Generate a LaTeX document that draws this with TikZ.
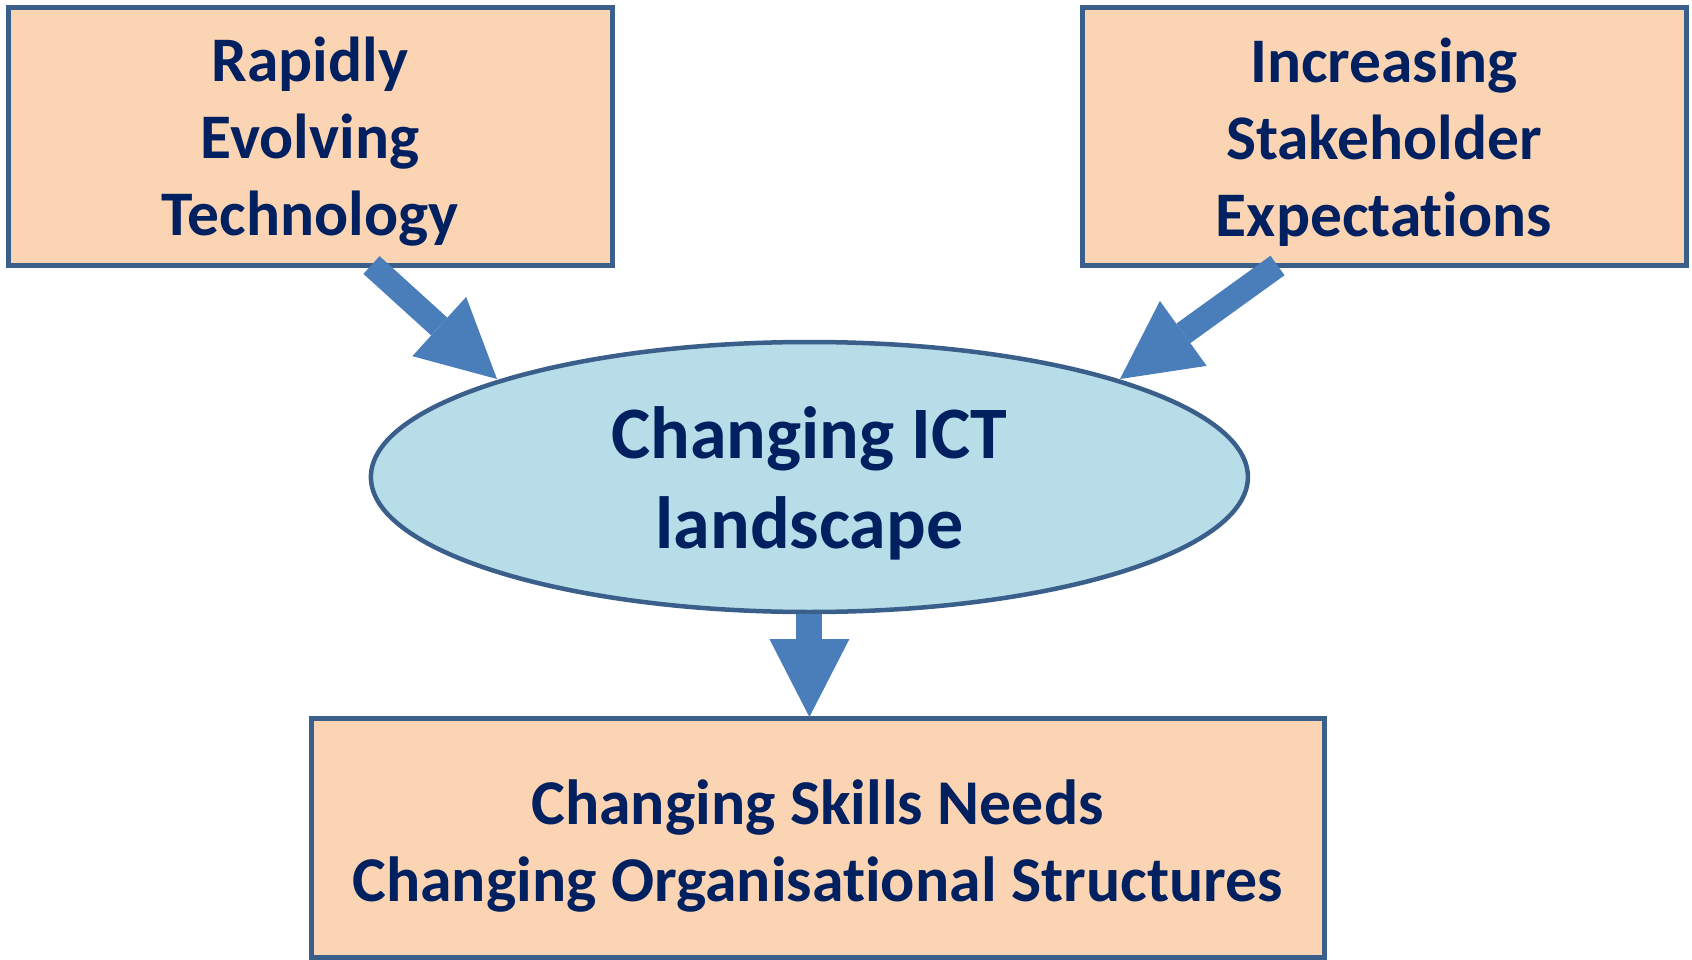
\documentclass[tikz,border=0pt]{standalone}
\usepackage{fontspec}
\setmainfont[Ligatures=NoCommon]{Carlito}
\usetikzlibrary{arrows.meta,shapes.geometric}
\definecolor{boxfill}{HTML}{FBD4B4}
\definecolor{ellfill}{HTML}{B7DDE8}
\definecolor{edgeblue}{HTML}{3A5F8B}
\definecolor{arrowblue}{HTML}{4A7EBB}
\definecolor{textnavy}{HTML}{002060}
\tikzset{
  causebox/.style={draw=edgeblue, line width=5pt, fill=boxfill, rectangle,
    inner sep=0pt, outer sep=0pt},
  centreell/.style={draw=edgeblue, line width=4.5pt, fill=ellfill, ellipse,
    inner sep=0pt, outer sep=0pt, minimum width=877pt, minimum height=270pt},
  boxtext/.style={align=center, text=textnavy, inner sep=0pt,
    font=\fontsize{63.5}{77}\selectfont\bfseries},
  blockarrow/.style={draw=arrowblue, line width=#1, line cap=butt,
    -{Triangle[width=80pt,length=78pt,line width=0pt]}},
}
\begin{document}
\begin{tikzpicture}[x=1pt,y=-1pt]
\useasboundingbox (0,0) rectangle (1692,960);
\node[causebox, minimum width=604pt, minimum height=257pt,
  label={[boxtext, yshift=-5.5pt]center:{Rapidly\\Evolving\\Technology}}] (tech) at (310,136.5) {};
\node[causebox, minimum width=604pt, minimum height=257pt,
  label={[boxtext, yshift=-5.5pt]center:{Increasing\\Stakeholder\\Expectations}}] (stake) at (1384,136.5) {};
\node[centreell,
  label={[boxtext, yshift=-6.5pt, font=\fontsize{74}{90.6}\selectfont\bfseries]center:{Changing ICT\\landscape}}] (ict) at (809.4,477) {};
\node[causebox, minimum width=1013pt, minimum height=239pt,
  label={[boxtext, yshift=-8.6pt, font=\fontsize{63.8}{77.7}\selectfont\bfseries]center:{Changing Skills Needs\\Changing Organisational Structures}}] (skills) at (817.5,837.5) {};
\coordinate (techout) at (371.5,265);
\coordinate (techin) at (497,379);
\coordinate (stakeout) at (1277.5,265.5);
\coordinate (stakein) at (1120,379);
\coordinate (ictout) at (809.4,614);
\coordinate (skillsin) at (809.4,717);
\draw[blockarrow=24pt] (techout) -- (techin);
\draw[blockarrow=24pt] (stakeout) -- (stakein);
\draw[blockarrow=26pt] (ictout) -- (skillsin);
\end{tikzpicture}
\end{document}
